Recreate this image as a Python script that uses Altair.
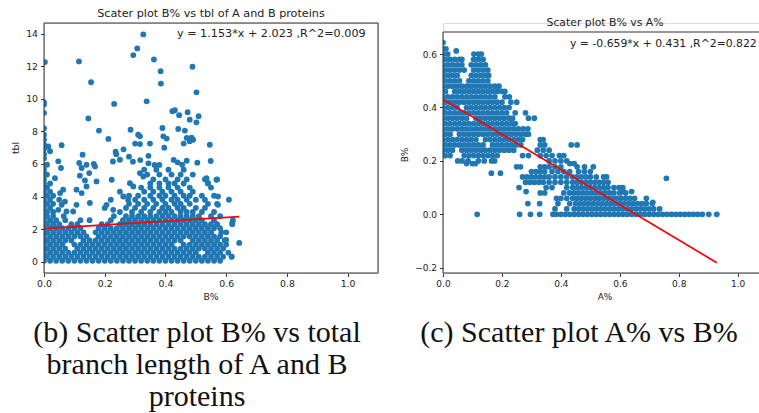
import altair as alt
import pandas as pd

BLUE = "#1f77b4"
INK = "#222222"
FRAME = "#333333"
SANS = "DejaVu Sans"
SERIF = "Liberation Serif"

# ---------------- panel (b): B% against total branch length (tbl) ----------------
# dense part of the cloud, one entry per tbl level: (tbl, [B% values])
TBL_ROWS = [
    (0.05, [0.0, 0.02, 0.04, 0.06, 0.08, 0.1, 0.12, 0.14, 0.16, 0.18, 0.2, 0.22, 0.24, 0.26, 0.28, 0.3,
            0.32, 0.34, 0.36, 0.38, 0.4, 0.42, 0.44, 0.46, 0.48, 0.5, 0.52, 0.54, 0.56, 0.58]),
    (0.3, [0.0, 0.01, 0.03, 0.05, 0.07, 0.09, 0.11, 0.13, 0.15, 0.17, 0.19, 0.21, 0.23, 0.25, 0.27, 0.29,
           0.31, 0.33, 0.35, 0.37, 0.39, 0.41, 0.43, 0.45, 0.47, 0.49, 0.51, 0.53, 0.55, 0.57, 0.59, 0.618]),
    (0.55, [0.0, 0.02, 0.04, 0.06, 0.08, 0.1, 0.12, 0.14, 0.16, 0.18, 0.2, 0.22, 0.24, 0.26, 0.28, 0.3,
            0.32, 0.34, 0.36, 0.38, 0.4, 0.42, 0.44, 0.46, 0.48, 0.5, 0.54, 0.56, 0.58, 0.607]),
    (0.8, [0.0, 0.01, 0.03, 0.05, 0.07, 0.11, 0.13, 0.15, 0.17, 0.19, 0.21, 0.23, 0.25, 0.27, 0.29, 0.31,
           0.33, 0.35, 0.37, 0.39, 0.41, 0.43, 0.45, 0.47, 0.49, 0.51, 0.53, 0.55, 0.57, 0.59]),
    (1.05, [0.0, 0.02, 0.04, 0.06, 0.1, 0.12, 0.14, 0.16, 0.18, 0.2, 0.22, 0.24, 0.26, 0.28, 0.3, 0.32,
            0.34, 0.36, 0.38, 0.4, 0.42, 0.46, 0.48, 0.5, 0.52, 0.54, 0.56, 0.58, 0.6]),
    (1.3, [0.0, 0.01, 0.03, 0.05, 0.07, 0.09, 0.13, 0.15, 0.17, 0.19, 0.21, 0.23, 0.25, 0.27, 0.29, 0.31,
           0.33, 0.35, 0.37, 0.39, 0.41, 0.43, 0.45, 0.49, 0.51, 0.53, 0.55, 0.57, 0.595]),
    (1.55, [0.0, 0.02, 0.04, 0.06, 0.08, 0.1, 0.12, 0.14, 0.18, 0.2, 0.22, 0.24, 0.26, 0.28, 0.3, 0.32,
            0.34, 0.36, 0.38, 0.4, 0.42, 0.44, 0.46, 0.48, 0.5, 0.52, 0.54, 0.56, 0.58]),
    (1.8, [0.0, 0.01, 0.03, 0.05, 0.07, 0.09, 0.11, 0.13, 0.17, 0.19, 0.21, 0.23, 0.25, 0.27, 0.29, 0.31,
           0.33, 0.35, 0.37, 0.39, 0.41, 0.43, 0.45, 0.47, 0.49, 0.51, 0.53, 0.55, 0.584, 0.6]),
    (2.05, [0.0, 0.02, 0.04, 0.06, 0.08, 0.1, 0.12, 0.18, 0.2, 0.22, 0.24, 0.26, 0.28, 0.3, 0.32, 0.34,
            0.36, 0.38, 0.4, 0.42, 0.44, 0.46, 0.48, 0.5, 0.52, 0.54, 0.56, 0.58]),
    (2.3, [0.0, 0.01, 0.03, 0.05, 0.09, 0.11, 0.19, 0.21, 0.25, 0.27, 0.29, 0.31, 0.33, 0.35, 0.37, 0.39,
           0.41, 0.43, 0.45, 0.47, 0.49, 0.51, 0.53, 0.55, 0.57, 0.62]),
    (2.55, [0.0, 0.02, 0.04, 0.07, 0.12, 0.15, 0.22, 0.26, 0.28, 0.3, 0.32, 0.34, 0.36, 0.38, 0.4, 0.42,
            0.44, 0.46, 0.48, 0.5, 0.52, 0.56, 0.622]),
    (2.8, [0.0, 0.01, 0.03, 0.065, 0.23, 0.27, 0.29, 0.31, 0.33, 0.35, 0.37, 0.39, 0.41, 0.43, 0.45, 0.47,
           0.49, 0.51, 0.55, 0.58]),
    (3.05, [0.0, 0.01, 0.03, 0.25, 0.29, 0.32, 0.35, 0.38, 0.4, 0.42, 0.45, 0.47, 0.49, 0.52, 0.56]),
    (3.3, [0.0, 0.02, 0.2, 0.27, 0.3, 0.33, 0.36, 0.39, 0.41, 0.44, 0.46, 0.5, 0.53]),
    (3.55, [0.0, 0.01, 0.03, 0.28, 0.31, 0.34, 0.37, 0.4, 0.43, 0.45, 0.48, 0.54, 0.57]),
    (3.8, [0.0, 0.02, 0.05, 0.22, 0.3, 0.33, 0.36, 0.39, 0.42, 0.44, 0.47, 0.5, 0.53]),
    (4.05, [0.0, 0.01, 0.03, 0.28, 0.31, 0.35, 0.38, 0.4, 0.43, 0.46, 0.48, 0.52, 0.56]),
    (4.3, [0.0, 0.02, 0.25, 0.33, 0.36, 0.39, 0.42, 0.45, 0.49]),
    (4.55, [0.0, 0.01, 0.32, 0.35, 0.38, 0.41, 0.44, 0.48, 0.55]),
    (4.8, [0.0, 0.02, 0.35, 0.38, 0.41, 0.43, 0.46, 0.54]),
    (5.05, [0.0, 0.36, 0.4, 0.44, 0.47, 0.53, 0.57]),
    (5.35, [0.0, 0.01, 0.34, 0.38, 0.42, 0.45, 0.49]),
    (5.65, [0.0, 0.33, 0.37, 0.41, 0.46]),
    (5.95, [0.0, 0.01]),
]

# scattered points outside the dense part: (B%, tbl)
TBL_EXTRA = [
    (0.003, 12.26), (0.115, 12.3), (0.327, 13.96), (0.307, 13.1), (0.294, 12.69),
    (0.362, 12.42), (0.384, 11.7), (0.489, 11.97), (0.155, 11.02), (0.385, 10.94),
    (0.502, 10.4), (0.338, 9.85), (0.231, 9.69), (0.0, 9.8), (0.0, 9.65), (0.0, 9.14),
    (0.423, 9.24), (0.431, 9.3), (0.445, 9.0), (0.473, 9.18), (0.146, 8.8), (0.48, 8.72),
    (0.502, 8.56), (0.509, 8.93), (0.0, 8.2), (0.39, 8.21), (0.442, 8.15), (0.464, 8.05),
    (0.181, 8.05), (0.285, 8.1), (0.0, 7.8), (0.31, 7.8), (0.316, 7.7), (0.393, 7.7),
    (0.404, 7.56), (0.47, 7.6), (0.486, 7.62), (0.491, 7.49), (0.48, 7.4), (0.212, 7.54),
    (0.0, 7.5), (0.3, 7.25), (0.316, 7.22), (0.349, 7.25), (0.058, 7.15), (0.546, 7.18),
    (0.46, 7.25), (0.0, 7.2), (0.014, 7.08), (0.02, 6.78), (0.0, 6.9), (0.0, 6.6),
    (0.0, 6.35), (0.396, 7.0), (0.262, 6.9), (0.236, 6.75), (0.238, 6.6), (0.127, 6.57),
    (0.28, 6.45), (0.344, 6.5), (0.227, 6.15), (0.25, 6.26), (0.047, 6.16), (0.116, 6.06),
    (0.164, 6.0), (0.293, 6.14), (0.317, 6.24), (0.344, 6.04), (0.364, 5.94), (0.38, 5.94),
    (0.505, 6.08), (0.549, 6.18), (0.427, 6.25), (0.44, 6.1), (0.455, 5.95), (0.47, 6.2),
    (0.056, 5.75), (0.124, 5.75), (0.14, 5.95), (0.168, 5.85), (0.149, 5.44), (0.118, 5.28),
    (0.036, 5.13), (0.135, 4.99), (0.173, 4.93), (0.223, 5.03), (0.316, 5.44), (0.327, 5.23),
    (0.283, 4.82), (0.294, 4.62), (0.107, 4.42), (0.124, 4.21), (0.14, 4.62), (0.151, 3.6),
    (0.063, 4.42), (0.053, 4.21), (0.069, 3.69), (0.058, 3.49), (0.047, 3.18), (0.074, 3.08),
    (0.096, 3.08), (0.107, 3.49), (0.206, 3.49), (0.228, 3.18), (0.261, 4.0), (0.277, 3.8),
    (0.535, 5.13), (0.54, 4.83), (0.568, 5.03), (0.573, 4.0), (0.573, 3.49), (0.609, 3.8),
    (0.62, 2.4), (0.643, 1.15), (0.618, 0.31), (0.6, 1.34),
]

FIT_B = {"slope": 1.153, "intercept": 2.023, "r2": 0.009, "xmax": 0.643}

# ---------------- panel (c): A% against B% ----------------
# one entry per B% level: (B%, [A% values])
BA_ROWS = [
    (0.643, [0.0]),
    (0.62, [0.0, 0.01]),
    (0.612, [0.045]),
    (0.6, [0.0, 0.016, 0.105, 0.12, 0.13]),
    (0.58, [0.0, 0.008, 0.024, 0.04, 0.056, 0.064, 0.104, 0.12, 0.136]),
    (0.56, [0.0, 0.016, 0.032, 0.048, 0.064, 0.096, 0.112, 0.128, 0.144]),
    (0.54, [0.0, 0.008, 0.024, 0.04, 0.056, 0.072, 0.104, 0.12, 0.136, 0.152]),
    (0.52, [0.0, 0.016, 0.032, 0.048, 0.096, 0.112, 0.128, 0.144, 0.155]),
    (0.5, [0.0, 0.008, 0.024, 0.04, 0.056, 0.088, 0.104, 0.12, 0.136, 0.152]),
    (0.48, [0.0, 0.016, 0.032, 0.048, 0.064, 0.08, 0.096, 0.112, 0.128, 0.144, 0.16, 0.176, 0.19]),
    (0.46, [0.0, 0.008, 0.04, 0.056, 0.072, 0.088, 0.104, 0.12, 0.136, 0.152, 0.168, 0.184, 0.2, 0.21]),
    (0.44, [0.0, 0.016, 0.032, 0.048, 0.064, 0.08, 0.096, 0.112, 0.128, 0.144, 0.16, 0.176, 0.21, 0.225]),
    (0.42, [0.0, 0.008, 0.024, 0.04, 0.056, 0.072, 0.088, 0.104, 0.12, 0.136, 0.152, 0.168, 0.184, 0.2,
            0.23, 0.25]),
    (0.4, [0.0, 0.016, 0.032, 0.048, 0.08, 0.096, 0.112, 0.128, 0.144, 0.16, 0.176, 0.192, 0.208, 0.224]),
    (0.38, [0.0, 0.008, 0.024, 0.04, 0.056, 0.072, 0.088, 0.104, 0.12, 0.136, 0.152, 0.168, 0.184, 0.2,
            0.216, 0.245, 0.28]),
    (0.36, [0.0, 0.016, 0.032, 0.048, 0.064, 0.08, 0.112, 0.128, 0.144, 0.16, 0.176, 0.192, 0.208, 0.224,
            0.236, 0.29, 0.31]),
    (0.34, [0.0, 0.008, 0.024, 0.04, 0.056, 0.072, 0.088, 0.104, 0.12, 0.136, 0.152, 0.168, 0.184, 0.2,
            0.216, 0.232, 0.245]),
    (0.32, [0.0, 0.016, 0.032, 0.048, 0.064, 0.08, 0.096, 0.112, 0.128, 0.144, 0.16, 0.176, 0.192, 0.208,
            0.224, 0.24, 0.256, 0.272, 0.288]),
    (0.3, [0.0, 0.008, 0.024, 0.056, 0.072, 0.088, 0.104, 0.12, 0.136, 0.152, 0.168, 0.184, 0.2, 0.216,
           0.232, 0.248, 0.264, 0.28, 0.29]),
    (0.28, [0.0, 0.016, 0.032, 0.048, 0.064, 0.08, 0.096, 0.112, 0.144, 0.16, 0.176, 0.192, 0.208, 0.224,
            0.24, 0.256, 0.27, 0.33, 0.34]),
    (0.26, [0.0, 0.008, 0.024, 0.04, 0.056, 0.072, 0.088, 0.104, 0.12, 0.136, 0.168, 0.184, 0.2, 0.216,
            0.232, 0.248, 0.264, 0.33, 0.345, 0.435, 0.455]),
    (0.24, [0.0, 0.016, 0.032, 0.064, 0.08, 0.096, 0.112, 0.128, 0.144, 0.16, 0.176, 0.192, 0.208, 0.224,
            0.24, 0.32, 0.34, 0.36]),
    (0.22, [0.0, 0.008, 0.024, 0.072, 0.088, 0.104, 0.12, 0.136, 0.152, 0.168, 0.184, 0.27, 0.29, 0.33,
            0.35, 0.37, 0.395, 0.41]),
    (0.2, [0.05, 0.065, 0.085, 0.12, 0.14, 0.165, 0.175, 0.36, 0.38, 0.4, 0.42]),
    (0.19, [0.08, 0.1, 0.11, 0.43, 0.445]),
    (0.178, [0.25, 0.263, 0.33, 0.345, 0.36, 0.38, 0.4, 0.455, 0.48, 0.51]),
    (0.16, [0.3, 0.315, 0.33, 0.345, 0.37, 0.39, 0.41, 0.43, 0.46, 0.48, 0.5]),
    (0.154, [0.164, 0.195]),
    (0.14, [0.27, 0.285, 0.3, 0.315, 0.33, 0.345, 0.36, 0.38, 0.4, 0.42, 0.44, 0.455, 0.47, 0.485, 0.5,
            0.52, 0.545, 0.555]),
    (0.135, [0.758]),
    (0.12, [0.28, 0.295, 0.31, 0.325, 0.34, 0.36, 0.38, 0.4, 0.42, 0.44, 0.455, 0.47, 0.485, 0.5, 0.515,
            0.53, 0.545, 0.56]),
    (0.1, [0.258, 0.35, 0.37, 0.42, 0.44, 0.455, 0.47, 0.485, 0.5, 0.515, 0.53, 0.545, 0.56, 0.58, 0.597,
           0.61]),
    (0.085, [0.282, 0.612, 0.64]),
    (0.08, [0.33, 0.345, 0.41, 0.43, 0.445, 0.46, 0.475, 0.49, 0.505, 0.52, 0.535, 0.55, 0.565, 0.58,
            0.6, 0.62]),
    (0.06, [0.385, 0.4, 0.42, 0.44, 0.455, 0.47, 0.485, 0.5, 0.515, 0.53, 0.545, 0.56, 0.575, 0.59,
            0.605, 0.62, 0.635, 0.65, 0.69]),
    (0.045, [0.712]),
    (0.04, [0.288, 0.328, 0.39, 0.43, 0.45, 0.465, 0.48, 0.495, 0.51, 0.525, 0.54, 0.555, 0.57, 0.585,
            0.6, 0.615, 0.63, 0.645, 0.66, 0.675, 0.69, 0.71]),
    (0.02, [0.38, 0.42, 0.445, 0.46, 0.475, 0.49, 0.505, 0.52, 0.535, 0.55, 0.565, 0.58, 0.595, 0.61,
            0.625, 0.64, 0.655, 0.67, 0.685, 0.7, 0.715, 0.735]),
    (0.0, [0.116, 0.26, 0.297, 0.328, 0.373, 0.385, 0.4, 0.415, 0.43, 0.445, 0.46, 0.475, 0.49, 0.505,
           0.52, 0.535, 0.55, 0.565, 0.58, 0.595, 0.61, 0.625, 0.64, 0.655, 0.67, 0.685, 0.7, 0.715,
           0.73, 0.745, 0.76, 0.775, 0.79, 0.805, 0.82, 0.835, 0.85, 0.865, 0.88, 0.902, 0.929]),
]

FIT_C = {"slope": -0.659, "intercept": 0.431, "r2": 0.822, "xmax": 0.929}

TBL_TICKS = [0, 2, 4, 6, 8, 10, 12, 14]
B_TICKS = [-0.2, 0.0, 0.2, 0.4, 0.6]
FRAC_TICKS = [0.0, 0.2, 0.4, 0.6, 0.8, 1.0]

# ---------------- tables ----------------
left_pts = pd.DataFrame(
    [(x, y) for y, xs in TBL_ROWS for x in xs] + TBL_EXTRA, columns=["bp", "tbl"]
)
right_pts = pd.DataFrame(
    [(x, y) for y, xs in BA_ROWS for x in xs], columns=["ap", "bp"]
)
left_fit = pd.DataFrame({"bp": [0.0, FIT_B["xmax"]]})
left_fit["tbl"] = FIT_B["slope"] * left_fit["bp"] + FIT_B["intercept"]
right_fit = pd.DataFrame({"ap": [0.0, FIT_C["xmax"]]})
right_fit["bp"] = FIT_C["slope"] * right_fit["ap"] + FIT_C["intercept"]

ONE = pd.DataFrame({"k": [0]})


def fit_text(f):
    return f"y = {f['slope']:.3f}*x + {f['intercept']:.3f} ,R^2={f['r2']:.3f}"


def label(text, x, y, size, align="center", angle=0, font=SANS, color=INK):
    return alt.Chart(ONE).mark_text(
        text=text, align=align, baseline="middle", angle=angle,
        fontSize=size, font=font, color=color,
    ).encode(x=alt.value(x), y=alt.value(y))


def axis(values, size, fmt, expr=None):
    kw = dict(
        values=values, format=fmt, title="", grid=False, domain=False,
        tickSize=3.5, tickColor=INK, tickWidth=0.9, labelFontSize=size,
        labelFont=SANS, labelColor=INK, labelPadding=3, labelFlush=False,
        labelOverlap=False,
    )
    if expr:
        kw["labelExpr"] = expr
    return alt.Axis(**kw)


# ---------------- panel (b) ----------------
LW, LH = 334, 250
lx = alt.X("bp:Q", scale=alt.Scale(domain=[0, 1.1], nice=False, zero=False),
           axis=axis(FRAC_TICKS, 9.3, ".1f"))
ly = alt.Y("tbl:Q", scale=alt.Scale(domain=[-0.698, 14.66], nice=False, zero=False),
           axis=axis(TBL_TICKS, 9.3, "d"))

left = alt.layer(
    alt.Chart(left_pts).mark_circle(size=34, color=BLUE, opacity=1, clip=True).encode(x=lx, y=ly),
    alt.Chart(left_fit).mark_line(color="red", strokeWidth=1.7, clip=True).encode(x=lx, y=ly),
    alt.Chart(ONE).mark_rect(fillOpacity=0, stroke=FRAME, strokeWidth=1).encode(
        x=alt.value(0), x2=alt.value(LW), y=alt.value(0), y2=alt.value(LH)),
    label("Scater plot B% vs tbl of A and B proteins", LW / 2, -9, 11.2),
    label(fit_text(FIT_B), 133, 11, 11.2, align="left"),
    label("tbl", -28, 125, 9.3, angle=270),
    label("B%", LW / 2, 274, 9.3),
    label("(b) Scatter plot B% vs total", 153, 310, 30, font=SERIF, color="#111111"),
    label("branch length of A and B", 153, 342, 30, font=SERIF, color="#111111"),
    label("proteins", 153, 374, 30, font=SERIF, color="#111111"),
).properties(width=LW, height=LH)

# ---------------- panel (c) ----------------
RW, RH, RTOP = 316, 250, 9
rx = alt.X("ap:Q", scale=alt.Scale(domain=[0, 1.0723], nice=False, zero=False),
           axis=axis(FRAC_TICKS, 9.0, ".1f"))
ry = alt.Y("bp:Q", scale=alt.Scale(domain=[-0.2199, 0.7165], nice=False, zero=False),
           axis=axis(B_TICKS, 9.0, ".1f", "replace(datum.label, '-', '\u2212')"))

right = alt.layer(
    alt.Chart(right_pts).mark_circle(size=33, color=BLUE, opacity=1, clip=True).encode(x=rx, y=ry),
    alt.Chart(right_fit).mark_line(color="red", strokeWidth=1.7, clip=True).encode(x=rx, y=ry),
    alt.Chart(ONE).mark_rule(color=FRAME, strokeWidth=1).encode(
        x=alt.value(0), x2=alt.value(RW), y=alt.value(RTOP)),
    alt.Chart(ONE).mark_rule(color=FRAME, strokeWidth=1).encode(
        x=alt.value(0), y=alt.value(RTOP), y2=alt.value(RH)),
    alt.Chart(ONE).mark_rule(color=FRAME, strokeWidth=1).encode(
        x=alt.value(0), x2=alt.value(RW), y=alt.value(RH)),
    label("Scater plot B% vs A%", 162, 0, 10.85),
    label(fit_text(FIT_C), 127, 21, 10.85, align="left"),
    label("B%", -38, 132, 9.0, angle=270),
    label("A%", 162, 274, 9.0),
    label("(c) Scatter plot A% vs B%", 136, 310, 30, font=SERIF, color="#111111"),
).properties(width=RW, height=RH)

chart = (
    alt.hconcat(left, right, spacing=65, bounds="flush")
    .properties(
        autosize=alt.AutoSizeParams(type="none"),
        padding={"left": 44, "top": 23, "right": 715, "bottom": 390},
    )
    .configure_view(strokeWidth=0)
    .configure(background="white")
)

chart.save("out.html", embed_options={"renderer": "svg", "actions": False})
